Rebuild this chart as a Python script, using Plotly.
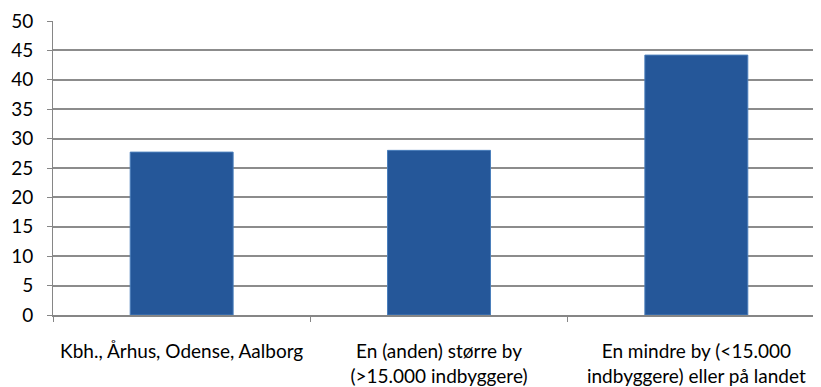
import plotly.graph_objects as go

# Categories and values
categories = [
    "Kbh., Århus, Odense, Aalborg",
    "En (anden) større by<br>(>15.000 indbyggere)",
    "En mindre by (<15.000<br>indbyggere) eller på landet",
]
values = [27.7, 28.0, 44.2]
y_ticks = list(range(0, 51, 5))

fig = go.Figure()
fig.add_trace(go.Bar(
    x=categories,
    y=values,
    marker=dict(color="#255799", line=dict(color="#4a7ebb", width=1)),
))

# the page body adds an 8px offset, so margins are trimmed by that much
fig.update_layout(
    width=821,
    height=387,
    margin=dict(l=45, r=4, t=13, b=80),
    plot_bgcolor="white",
    paper_bgcolor="white",
    bargap=0.6,
    showlegend=False,
    font=dict(family="Lato, Open Sans, sans-serif", size=19, color="black"),
)

fig.update_xaxes(
    showline=True,
    linecolor="#868686",
    linewidth=2,
    ticks="outside",
    tickson="boundaries",
    ticklen=5,
    tickcolor="#868686",
    tickangle=0,
    ticklabelstandoff=18,
    automargin=False,
)

fig.update_yaxes(
    range=[0, 50],
    tickvals=y_ticks,
    showgrid=True,
    gridcolor="#8c8c8c",
    gridwidth=1.5,
    showline=True,
    linecolor="#868686",
    linewidth=1,
    ticks="outside",
    ticklen=5,
    tickcolor="#868686",
    ticklabelstandoff=10,
    zeroline=False,
    automargin=False,
)

fig.write_html("out.html")
